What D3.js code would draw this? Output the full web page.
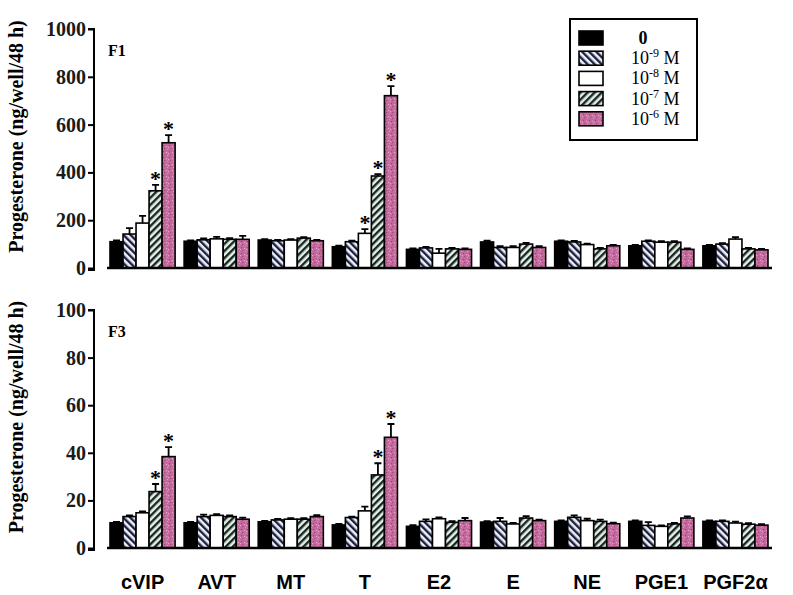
<!DOCTYPE html>
<html lang="en">
<head>
<meta charset="UTF-8">
<script src="https://d3js.org/d3.v7.min.js"></script>
<style>
  body { margin: 0; background: #fff; }
  .tick text { font-family: "Liberation Serif", "Times New Roman", serif; font-size: 20px; font-weight: bold; fill: #1a1a1a; }
  .bar { stroke: #000; stroke-width: 1.6; }
</style>
<title>Progesterone F1 / F3</title>
</head>
<body>
<div id="chart"></div>
<script>
// categories and doses
var categories = ["cVIP", "AVT", "MT", "T", "E2", "E", "NE", "PGE1", "PGF2α"];
var doses = ["0", "-9", "-8", "-7", "-6"];

// F1 means and SEM (ng/well/48 h), one row per category, one column per dose
var f1Mean = [
  [110, 142, 188, 323, 524],
  [112, 118, 122, 120, 120],
  [117, 114, 117, 125, 114],
  [89, 110, 145, 385, 721],
  [78, 84, 62, 80, 78],
  [109, 86, 86, 100, 86],
  [112, 109, 98, 80, 93],
  [93, 112, 108, 108, 78],
  [93, 100, 121, 80, 76]
];
var f1Err = [
  [5, 25, 30, 25, 32],
  [4, 6, 8, 5, 14],
  [4, 4, 4, 4, 4],
  [4, 4, 18, 8, 40],
  [4, 4, 18, 4, 4],
  [5, 5, 5, 5, 5],
  [4, 4, 4, 4, 4],
  [4, 4, 4, 4, 4],
  [4, 4, 8, 4, 4]
];
var f1Stars = [["cVIP", 3], ["cVIP", 4], ["T", 2], ["T", 3], ["T", 4]];

// F3
var f3Mean = [
  [10.6, 13.2, 14.8, 23.7, 38.4],
  [10.6, 13.2, 13.7, 13.2, 12.1],
  [11, 11.8, 12.1, 12.1, 13.2],
  [9.7, 12.8, 15.6, 30.7, 46.5],
  [9.1, 11.2, 12.3, 10.8, 11.5],
  [10.9, 11.2, 10.1, 12.6, 11.5],
  [11.2, 12.9, 11.5, 11.2, 10.2],
  [11.2, 9.5, 9.1, 10.1, 12.6],
  [11.2, 11.2, 10.5, 10, 9.6]
];
var f3Err = [
  [0.4, 0.5, 0.6, 3.2, 4],
  [0.4, 0.8, 0.5, 0.5, 0.7],
  [0.4, 0.4, 0.4, 0.4, 0.6],
  [0.4, 0.4, 1.8, 4.9, 5.6],
  [0.5, 0.8, 0.6, 0.5, 1.1],
  [0.4, 1.4, 0.4, 0.8, 0.4],
  [0.4, 0.8, 0.8, 0.7, 0.4],
  [0.4, 1.4, 0.4, 0.4, 0.7],
  [0.4, 0.4, 0.6, 0.4, 0.4]
];
var f3Stars = [["cVIP", 3], ["cVIP", 4], ["T", 3], ["T", 4]];

var f1Ticks = [0, 200, 400, 600, 800, 1000];
var f3Ticks = [0, 20, 40, 60, 80, 100];

var width = 793, height = 595;
var svg = d3.select("#chart").append("svg")
  .attr("width", width).attr("height", height);

// patterns
var defs = svg.append("defs");
function hatch(id, angle, bg, fg) {
  var p = defs.append("pattern").attr("id", id)
    .attr("patternUnits", "userSpaceOnUse").attr("width", 5).attr("height", 5)
    .attr("patternTransform", "rotate(" + angle + ")");
  p.append("rect").attr("width", 5).attr("height", 5).attr("fill", bg);
  p.append("rect").attr("width", 2.4).attr("height", 5).attr("fill", fg);
}
hatch("h9", -45, "#eef0f6", "#1b2040");
hatch("h7", 45, "#e6f0ea", "#18261f");
var pk = defs.append("pattern").attr("id", "pink")
  .attr("patternUnits", "userSpaceOnUse").attr("width", 6).attr("height", 6);
pk.append("rect").attr("width", 6).attr("height", 6).attr("fill", "#c56a9e");
[[1, 1, "#9c3f74"], [4, 2, "#e3a6c6"], [2, 4, "#a44a7e"], [5, 5, "#dc95bb"], [0, 3, "#e0a0c2"]]
  .forEach(function (d) {
    pk.append("rect").attr("x", d[0]).attr("y", d[1]).attr("width", 1.2).attr("height", 1.2).attr("fill", d[2]);
  });
var fills = ["#000", "url(#h9)", "#fff", "url(#h7)", "url(#pink)"];

var x0 = d3.scaleBand().domain(categories).range([105.5, 772.5])
  .paddingInner(0.1216).paddingOuter(0.0608);
var x1 = d3.scaleBand().domain(d3.range(doses.length)).range([0, x0.bandwidth()]);

function panel(name, mean, err, stars, ticks, top, bottom) {
  var y = d3.scaleLinear().domain([ticks[0], ticks[ticks.length - 1]]).range([bottom, top]);
  var g = svg.append("g");

  var yAxis = g.append("g").attr("transform", "translate(94,0)")
    .call(d3.axisLeft(y).tickValues(ticks).tickFormat(d3.format("d")).tickSize(6).tickPadding(2));
  yAxis.select(".domain").attr("stroke-width", 2).attr("d", "M-6," + top + "H0V" + (bottom + 2) + "H-6");
  yAxis.selectAll(".tick line").attr("stroke-width", 2);

  var rows = [];
  categories.forEach(function (c, i) {
    doses.forEach(function (d, j) {
      rows.push({ cat: c, k: j, v: mean[i][j], e: err[i][j] });
    });
  });

  var bars = g.selectAll(".grp").data(rows).enter().append("g");
  // error bars
  bars.append("path")
    .attr("d", function (d) {
      var cx = x0(d.cat) + x1(d.k) + x1.bandwidth() / 2;
      var yt = y(d.v + d.e);
      return "M" + cx + "," + y(d.v) + "V" + yt + "M" + (cx - 3.5) + "," + yt + "H" + (cx + 3.5);
    })
    .attr("stroke", "#000").attr("stroke-width", 1.8).attr("fill", "none");
  bars.append("rect").attr("class", "bar")
    .attr("x", function (d) { return x0(d.cat) + x1(d.k); })
    .attr("width", x1.bandwidth())
    .attr("y", function (d) { return y(d.v); })
    .attr("height", function (d) { return y(0) - y(d.v); })
    .attr("fill", function (d) { return fills[d.k]; });

  // significance stars
  g.selectAll(".star").data(stars).enter().append("text")
    .attr("x", function (s) { return x0(s[0]) + x1(s[1]) + x1.bandwidth() / 2; })
    .attr("y", function (s) {
      var i = categories.indexOf(s[0]);
      return y(mean[i][s[1]] + err[i][s[1]]) + 1;
    })
    .attr("text-anchor", "middle")
    .style("font-family", "Liberation Serif, serif")
    .style("font-size", "22px").style("font-weight", "bold")
    .text("*");

  // baseline
  g.append("line").attr("x1", 107).attr("x2", 772)
    .attr("y1", y(0)).attr("y2", y(0))
    .attr("stroke", "#000").attr("stroke-width", 2.6);

  g.append("text").attr("x", 108).attr("y", top + 27)
    .style("font-family", "Liberation Serif, serif").style("font-size", "16px").style("font-weight", "bold")
    .text(name);

  g.append("text")
    .attr("transform", "translate(23," + ((top + bottom) / 2 - 12) + ") rotate(-90)")
    .attr("text-anchor", "middle")
    .style("font-family", "Liberation Serif, serif").style("font-size", "20px").style("font-weight", "bold")
    .text("Progesterone (ng/well/48 h)");
}

panel("F1", f1Mean, f1Err, f1Stars, f1Ticks, 29, 268);
panel("F3", f3Mean, f3Err, f3Stars, f3Ticks, 310, 548);

// category labels
svg.selectAll(".cat").data(categories).enter().append("text")
  .attr("x", function (c) { return x0(c) + x0.bandwidth() / 2; })
  .attr("y", 589)
  .attr("text-anchor", "middle")
  .style("font-family", "Liberation Sans, Arial, sans-serif")
  .style("font-size", "20px").style("font-weight", "bold")
  .text(function (c) { return c; });

// legend
var lg = svg.append("g");
lg.append("rect").attr("x", 570).attr("y", 19).attr("width", 127).attr("height", 121)
  .attr("fill", "#fff").attr("stroke", "#000").attr("stroke-width", 2);
var items = lg.selectAll(".li").data(doses).enter().append("g")
  .attr("transform", function (d, i) { return "translate(0," + (38 + i * 20.2) + ")"; });
items.append("rect").attr("x", 579).attr("y", -7).attr("width", 24).attr("height", 14)
  .attr("fill", function (d, i) { return fills[i]; })
  .attr("stroke", "#000").attr("stroke-width", 1.6);
var lt = items.append("text").attr("x", 631).attr("y", 6)
  .style("font-family", "Liberation Serif, serif").style("font-size", "18px");
lt.each(function (d) {
  var t = d3.select(this);
  if (d === "0") {
    t.attr("x", 643).attr("text-anchor", "middle").style("font-weight", "bold").text("0");
  } else {
    t.append("tspan").text("10");
    t.append("tspan").attr("dy", -7).style("font-size", "12px").text(d);
    t.append("tspan").attr("dy", 7).text(" M");
  }
});
</script>
</body>
</html>
